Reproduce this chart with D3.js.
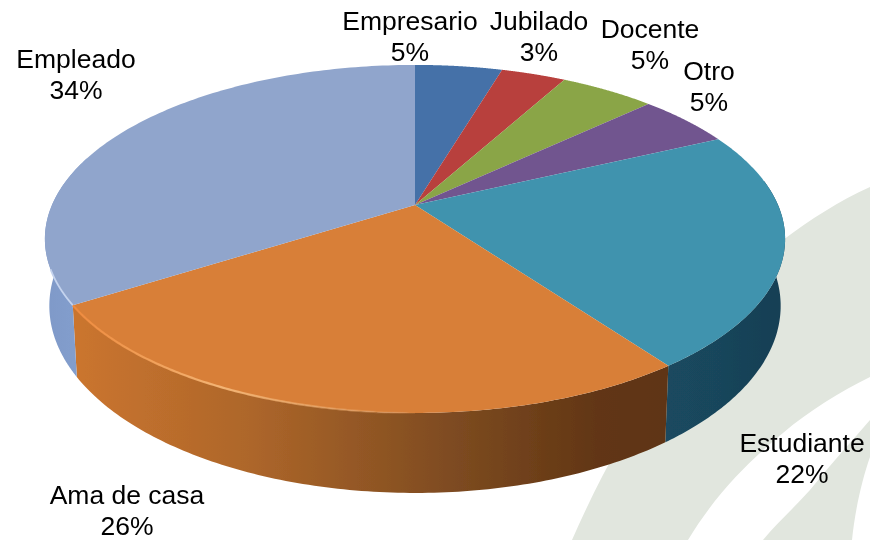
<!DOCTYPE html>
<html><head><meta charset="utf-8">
<script src="https://cdn.jsdelivr.net/npm/d3@7"></script>
<style>html,body{margin:0;padding:0;background:#fff}svg{display:block}text{font-family:"Liberation Sans",Arial,sans-serif;fill:#000}</style>
</head><body><svg id="c" width="870" height="540"></svg>
<script>
const categories=["Empresario","Jubilado","Docente","Otro","Estudiante","Ama de casa","Empleado"];
const values=[4.6,3.4,5,5,22,26,34];
const labels=["5%","3%","5%","5%","22%","26%","34%"];
const colors=["#4471a8","#b83f3c","#8aa547","#71548f","#3f93ae","#d87f38","#90a5cc"];
const labelPos=[[410,30],[539,30],[650,38],[709,80],[802,452],[127,504],[76,68]];

const svg=d3.select("#c");
const defs=svg.append("defs");
defs.append("filter").attr("id","soft").append("feGaussianBlur").attr("stdDeviation",0.55);
const k=0.195,a=167.4,b=363,cx=415,cy=205,dep=64.4;
const proj=t=>{const X=Math.sin(t),Y=-Math.cos(t),w=1-k*Y;return [cx+b*X/w,cy+a*Y/w,w];};
const projT=t=>proj(t).slice(0,2);
const projB=t=>{const p=proj(t);return [cx+(p[0]-cx)*0.988,p[1]+dep/p[2]];};
const line=d3.line();
const arcPts=(s,e,f)=>d3.range(0,121).map(i=>f(s+(e-s)*i/120));
const arcs=d3.pie().value(d=>d).sort(null)(values);

// watermark
const wm=svg.append("g").attr("fill","#e1e6de");
wm.append("path").attr("d","M870,187 C840,200 810,220 783,240 C690,320 620,430 572,540 L688,540 C715,495 750,460 783,433 C810,410 840,392 870,377 Z");
wm.append("path").attr("d","M870,420 C850,443 830,465 810,490 C795,507 778,522 763,540 L852,540 C855,510 862,480 870,457 Z");

// side walls
const sideStops={
 4:[[0,"#1a4a60"],[1,"#183f54"]],
 5:[[0,"#5f3513"],[0.12,"#623614"],[0.35,"#7c4a20"],[0.7,"#ad662a"],[1,"#cb752f"]],
 6:[[0,"#7f99c8"],[1,"#84a0cf"]]};
const pie3d=svg.append("g").attr("filter","url(#soft)");
arcs.forEach((d,i)=>{
  if(!sideStops[i])return;
  const s=i==4?Math.PI/2-0.15:d.startAngle, e=i==6?Math.PI*1.5+0.3:d.endAngle;
  const top=arcPts(s,e,projT), bot=arcPts(s,e,projB).reverse();
  const xs=top.concat(bot).map(p=>p[0]);
  const g=defs.append("linearGradient").attr("id","side"+i).attr("gradientUnits","userSpaceOnUse")
    .attr("x1",i==5?d3.max(xs):d3.min(xs)).attr("x2",i==5?d3.min(xs):d3.max(xs)).attr("y1",0).attr("y2",0);
  sideStops[i].forEach(c=>g.append("stop").attr("offset",c[0]).attr("stop-color",c[1]));
  pie3d.append("path").attr("d",line(top.concat(bot))+"Z").attr("fill","url(#side"+i+")");
});

// top face
pie3d.selectAll("path.slice").data(arcs).join("path").attr("class","slice")
 .attr("fill",(d,i)=>colors[i])
 .attr("d",d=>line([[cx,cy]].concat(arcPts(d.startAngle,d.endAngle,projT)))+"Z");

// rim highlights
const hg=defs.append("linearGradient").attr("id","rim").attr("gradientUnits","userSpaceOnUse").attr("x1",72).attr("x2",450).attr("y1",0).attr("y2",0);
[[0,"#f08a3c",.9],[0.4,"#f5b777",.95],[0.75,"#e9a566",.5],[1,"#d87f38",0]].forEach(s=>hg.append("stop").attr("offset",s[0]).attr("stop-color",s[1]).attr("stop-opacity",s[2]));
pie3d.append("path").attr("fill","none").attr("stroke","url(#rim)").attr("stroke-width",2.2)
 .attr("d",line(arcPts(Math.PI,arcs[5].endAngle,projT)));
pie3d.append("path").attr("fill","none").attr("stroke","#c4d3ee").attr("stroke-width",1.8)
 .attr("d",line(arcPts(arcs[6].startAngle,arcs[6].startAngle+0.2,projT)));

// labels
const tx=svg.append("g").attr("filter","url(#soft)").selectAll("text").data(categories).join("text")
 .attr("text-anchor","middle").attr("font-size",26.5)
 .attr("transform",(d,i)=>`translate(${labelPos[i][0]},${labelPos[i][1]})`);
tx.append("tspan").attr("x",0).attr("y",0).text(d=>d);
tx.append("tspan").attr("x",0).attr("y",30.5).text((d,i)=>labels[i]);
</script></body></html>
